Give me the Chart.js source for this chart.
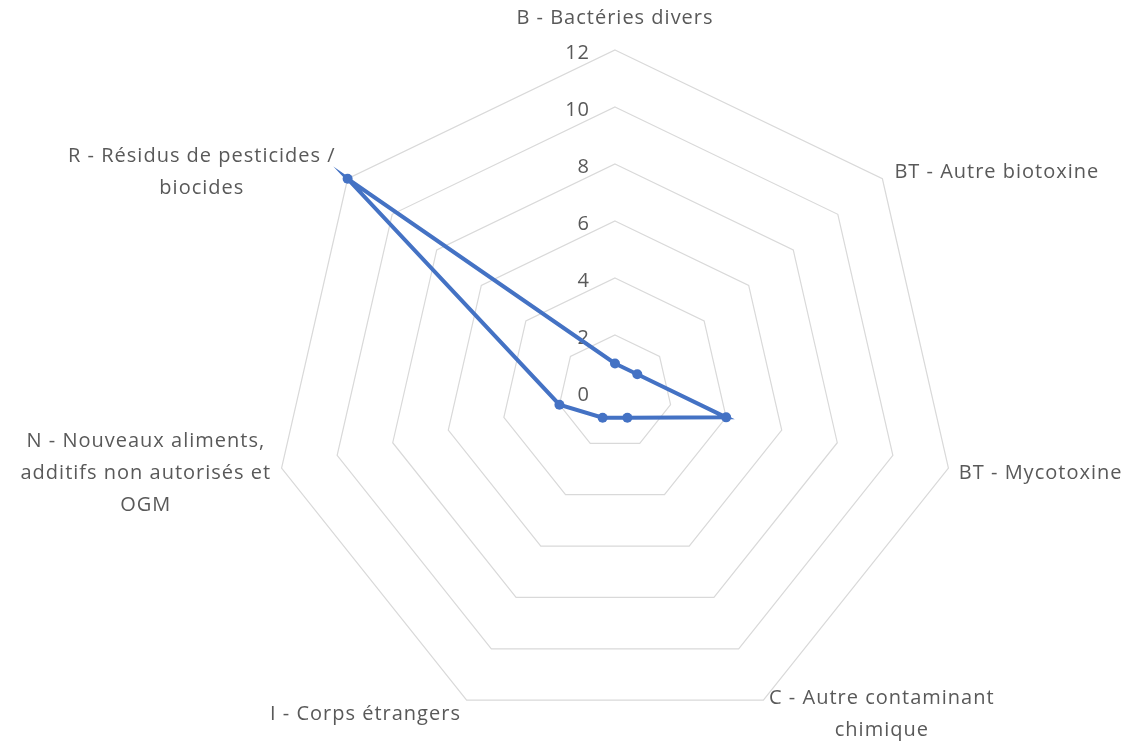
<!DOCTYPE html>
<html lang="fr">
<head>
<meta charset="utf-8">
<title>Alertes par catégorie de danger</title>
<script src="https://cdn.jsdelivr.net/npm/chart.js@4.4.1/dist/chart.umd.min.js"></script>
<style>
  html, body { margin: 0; padding: 0; background: #fff; }
  #wrap { width: 1140px; height: 747px; }
</style>
</head>
<body>
<div id="wrap"><canvas id="radar" width="1140" height="747"></canvas></div>
<script>
// categories, one per axis (multi-line labels as arrays)
const categories = [
    'B - Bactéries divers',
    'BT - Autre biotoxine',
    'BT - Mycotoxine',
    ['C - Autre contaminant', 'chimique'],
    'I - Corps étrangers',
    ['N - Nouveaux aliments,', 'additifs non autorisés et', 'OGM'],
    ['R - Résidus de pesticides /', 'biocides']
];
const counts = [1, 1, 4, 1, 1, 2, 12];
const tickValues = [0, 2, 4, 6, 8, 10, 12];

const textColor = '#595959';
const fontFamily = '"Open Sans", "Noto Sans", sans-serif';
const fontSize = 20;
const lineHeight = 32;

function setTextStyle(ctx) {
    ctx.font = `${fontSize}px ${fontFamily}`;
    ctx.fillStyle = textColor;
    ctx.letterSpacing = '1px';
}

// Excel-style labels: tick numbers left of the vertical axis,
// category names centred per line and anchored outside each vertex
const excelLabels = {
    id: 'excelLabels',
    beforeDatasetsDraw(chart) {
        const scale = chart.scales.r;
        const ctx = chart.ctx;
        ctx.save();
        setTextStyle(ctx);
        ctx.textAlign = 'right';
        ctx.textBaseline = 'middle';
        tickValues.forEach(v => {
            const d = scale.getDistanceFromCenterForValue(v);
            ctx.fillText(String(v), scale.xCenter - 25, scale.yCenter - d + 3);
        });
        ctx.restore();
    },
    afterDraw(chart) {
        const scale = chart.scales.r;
        const ctx = chart.ctx;
        ctx.save();
        setTextStyle(ctx);
        ctx.textBaseline = 'middle';
        ctx.textAlign = 'center';
        chart.data.labels.forEach((label, i) => {
            const lines = Array.isArray(label) ? label : [label];
            const p = scale.getPointPosition(i, scale.drawingArea);
            const c = Math.cos(p.angle), s = Math.sin(p.angle);
            const blockW = Math.max(...lines.map(l => ctx.measureText(l).width));
            const blockH = lines.length * lineHeight;
            let midX, midY;
            if (Math.abs(c) < 0.05) {
                midX = p.x;
                midY = p.y + s * (blockH / 2 + 16);
            } else {
                const gap = 12 - 7 * Math.max(s, 0);
                midX = c > 0 ? p.x + gap + blockW / 2 : p.x - gap - blockW / 2;
                midY = p.y + 13 * s + 2;
            }
            lines.forEach((l, k) => {
                ctx.fillText(l, midX, midY - blockH / 2 + lineHeight * (k + 0.5));
            });
        });
        ctx.restore();
    }
};

new Chart(document.getElementById('radar'), {
    type: 'radar',
    data: {
        labels: categories,
        datasets: [{
            label: 'Alertes',
            data: counts,
            borderColor: '#4472C4',
            backgroundColor: '#4472C4',
            borderWidth: 4,
            pointRadius: 5,
            pointBackgroundColor: '#4472C4',
            pointBorderWidth: 0,
            fill: false,
            tension: 0
        }]
    },
    options: {
        responsive: false,
        devicePixelRatio: 1,
        animation: false,
        layout: { padding: { left: 273, right: 183, top: 50, bottom: 13 } },
        plugins: {
            legend: { display: false },
            tooltip: { enabled: false }
        },
        scales: {
            r: {
                min: 0,
                max: 12,
                ticks: { display: false, stepSize: 2 },
                pointLabels: { display: false },
                angleLines: { display: false },
                grid: { color: '#d9d9d9', lineWidth: 1.2 }
            }
        }
    },
    plugins: [excelLabels]
});
</script>
</body>
</html>
